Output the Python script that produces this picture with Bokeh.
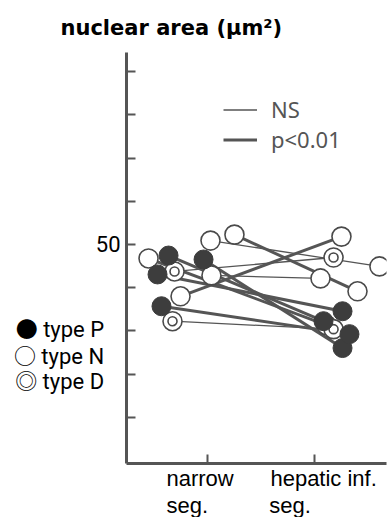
from bokeh.plotting import figure
from bokeh.models import Range1d, FixedTicker, Legend, LegendItem, LinearAxis, Title
from bokeh.embed import file_html
from bokeh.resources import INLINE

# ---- data ----
categories = ["narrow", "hepatic inf."]
cat_pos = [1, 2]
# per-case values: horizontal jitter position and nuclear area (um^2)
narrow_x = [0.636, 0.533, 0.963, 0.570, 0.449, 1.028, 1.252, 1.037, 0.748, 0.692, 0.673]
narrow_y = [48.73, 46.54, 48.27, 42.86, 48.39, 50.46, 51.15, 46.43, 44.01, 46.89, 41.13]
hepatic_x = [2.084, 2.262, 2.262, 2.327, 2.112, 2.607, 2.402, 2.056, 2.252, 2.178, 2.178]
hepatic_y = [41.13, 42.28, 38.02, 39.63, 40.67, 47.47, 44.59, 46.08, 50.92, 48.50, 40.21]
case_type = ["P", "P", "P", "P", "N", "N", "N", "N", "N", "D", "D"]
significant = [True, True, True, True, True, False, True, False, True, False, False]
y_ticks = [30, 35, 40, 45, 50, 55, 60, 65, 70]
y_label_value = 50
type_names = ["type P", "type N", "type D"]
type_symbols = ["\u25cf", "\u25cb", "\u25ce"]

GRAY = "#4a4a4a"
LINE = "#555555"
NB = "\u00a0"

Y0, Y1 = 24.654, 72.235
FRAME_TOP, FRAME_BOTTOM = 50, 463

p = figure(width=389, height=517, output_backend="svg", toolbar_location=None,
           x_range=Range1d(0.243, 2.673), y_range=Range1d(Y0, Y1),
           min_border_left=126, min_border_right=3, min_border_top=FRAME_TOP,
           min_border_bottom=517 - FRAME_BOTTOM)
p.outline_line_color = None
p.grid.visible = False
p.background_fill_color = "white"

def px_to_val(py):
    return Y1 - (py - FRAME_TOP) / (FRAME_BOTTOM - FRAME_TOP) * (Y1 - Y0)

# main axes (ticks only)
p.yaxis.ticker = FixedTicker(ticks=y_ticks)
p.yaxis.major_label_overrides = {t: "" for t in y_ticks}
p.yaxis.major_label_standoff = 0
p.yaxis.major_tick_in = 9
p.yaxis.major_tick_out = 0
p.yaxis.minor_tick_line_color = None
p.yaxis.axis_line_width = 3
p.yaxis.axis_line_color = LINE
p.yaxis.major_tick_line_color = LINE
p.yaxis.major_tick_line_width = 2

p.xaxis.ticker = FixedTicker(ticks=cat_pos)
p.xaxis.major_label_overrides = {c: "" for c in cat_pos}
p.xaxis.major_label_standoff = 6
p.xaxis.major_tick_in = 9
p.xaxis.major_tick_out = 0
p.xaxis.minor_tick_line_color = None
p.xaxis.axis_line_width = 3
p.xaxis.axis_line_color = LINE
p.xaxis.major_tick_line_color = LINE
p.xaxis.major_tick_line_width = 2

# label axis on the left: "50" and the type key
row_px = [328, 355, 381]
pads = [3, 3, 3]
lab_ticks = [y_label_value] + [px_to_val(r) for r in row_px]
overrides = {y_label_value: str(y_label_value)}
for v, s, n, k in zip(lab_ticks[1:], type_symbols, type_names, pads):
    overrides[v] = s + " " + n + NB * k
lab_axis = LinearAxis(ticker=FixedTicker(ticks=lab_ticks), major_label_overrides=overrides,
                      axis_line_color=None, major_tick_line_color=None, minor_tick_line_color=None,
                      major_label_standoff=0,
                      major_label_text_font="Roboto, Noto Sans CJK JP",
                      major_label_text_font_size="22px", major_label_text_color="black")
p.add_layout(lab_axis, "left")

# connecting lines
thin_xs, thin_ys, thick_xs, thick_ys = [], [], [], []
for i in range(len(narrow_x)):
    xs = [narrow_x[i], hepatic_x[i]]
    ys = [narrow_y[i], hepatic_y[i]]
    if significant[i]:
        thick_xs.append(xs); thick_ys.append(ys)
    else:
        thin_xs.append(xs); thin_ys.append(ys)
thin_r = p.multi_line(thin_xs, thin_ys, line_color=LINE, line_width=1.3)
thick_r = p.multi_line(thick_xs, thick_ys, line_color=LINE, line_width=3)

# points
def pts(t):
    xs, ys = [], []
    for i, ct in enumerate(case_type):
        if ct == t:
            xs += [narrow_x[i], hepatic_x[i]]
            ys += [narrow_y[i], hepatic_y[i]]
    return xs, ys

xN, yN = pts("N")
p.scatter(xN, yN, size=19, fill_color="white", line_color=GRAY, line_width=1.6)
xD, yD = pts("D")
p.scatter(xD, yD, size=19, fill_color="white", line_color=GRAY, line_width=1.6)
p.scatter(xD, yD, size=9, fill_color="white", line_color=GRAY, line_width=1.6)
xP, yP = pts("P")
p.scatter(xP, yP, size=19, fill_color="#3d3d3d", line_color="#3d3d3d", line_width=1)

# significance legend
leg = Legend(items=[LegendItem(label="NS", renderers=[thin_r]),
                    LegendItem(label="p<0.01", renderers=[thick_r])],
             location=(97, 309), padding=0, margin=0, spacing=0,
             glyph_width=34, glyph_height=25, label_height=25, label_standoff=14,
             border_line_color=None, background_fill_alpha=0,
             label_text_font="Noto Sans", label_text_font_size="22px",
             label_text_color="#555555")
p.add_layout(leg)

# title
p.title.text = "nuclear area (\u03bcm\u00b2)"
p.title.align = "left"
p.title.offset = -66
p.title.standoff = 26
p.title.text_font = "DejaVu Sans"
p.title.text_font_style = "bold"
p.title.text_font_size = "21px"
p.title.text_color = "black"

# category labels: two rows below the x axis, left-aligned under each tick
row1 = categories[0] + NB * 6 + categories[1]
row2 = "seg." + NB * 10 + "seg."
for txt in (row1, row2):
    t = Title(text=txt, align="left", offset=40, standoff=0,
              text_font="Liberation Sans", text_font_size="22px",
              text_font_style="normal", text_color="black")
    p.add_layout(t, "below")

open("out.html", "w").write(file_html(p, INLINE))
